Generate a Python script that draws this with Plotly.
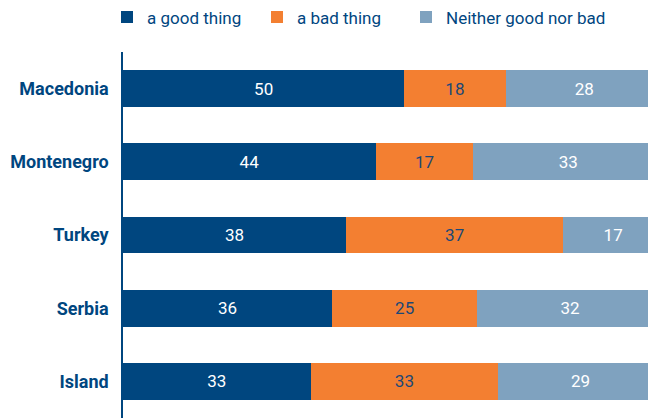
import plotly.graph_objects as go

countries = ["Macedonia", "Montenegro", "Turkey", "Serbia", "Island"]
good = [50, 44, 38, 36, 33]
bad = [18, 17, 37, 25, 33]
neither = [28, 33, 17, 32, 29]

series_names = ["a good thing", "a bad thing", "Neither good nor bad"]
series_values = [good, bad, neither]
colors = ["#00467F", "#F37F31", "#7FA2BF"]
text_colors = ["#FFFFFF", "#1B4877", "#FFFFFF"]
legend_ids = ["legend", "legend2", "legend3"]
legend_x_px = [99, 249, 398]

FONT = "Roboto, 'Open Sans', sans-serif"
FIG_W, FIG_H = 648, 410

fig = go.Figure()
for name, vals, col, tcol, lid in zip(series_names, series_values, colors, text_colors, legend_ids):
    fig.add_trace(go.Bar(
        y=countries, x=vals, name=name, orientation="h",
        marker=dict(color=col, line=dict(width=0)),
        text=vals, texttemplate="%{text}", textposition="inside",
        insidetextanchor="middle", textangle=0, constraintext="none",
        textfont=dict(color=tcol, size=17, family=FONT),
        hoverinfo="skip", legend=lid,
    ))

legend_common = dict(
    orientation="h", xref="container", yref="container",
    y=1 - 9.5 / FIG_H, xanchor="left", yanchor="middle",
    font=dict(size=17, color="#00467F", family=FONT),
    itemclick=False, itemdoubleclick=False, bgcolor="rgba(0,0,0,0)",
)
legends = {lid: dict(legend_common, x=px / FIG_W) for lid, px in zip(legend_ids, legend_x_px)}

fig.update_layout(
    width=FIG_W, height=FIG_H,
    barmode="stack", barnorm="percent", bargap=0.495,
    margin=dict(l=115, r=0, t=44, b=0, autoexpand=False),
    paper_bgcolor="white", plot_bgcolor="white",
    font=dict(family=FONT, color="#00467F"),
    showlegend=True,
    **legends,
)
fig.update_xaxes(range=[0, 98.7], visible=False, showgrid=False, zeroline=False)
fig.update_yaxes(
    autorange="reversed", showline=True, linecolor="#00467F", linewidth=1.5,
    showgrid=False, ticks="outside", ticklen=9, tickcolor="rgba(0,0,0,0)",
    automargin=False,
    tickfont=dict(size=18, color="#00467F", family="Roboto, sans-serif", weight="bold"),
)

fig.write_html("out.html")
